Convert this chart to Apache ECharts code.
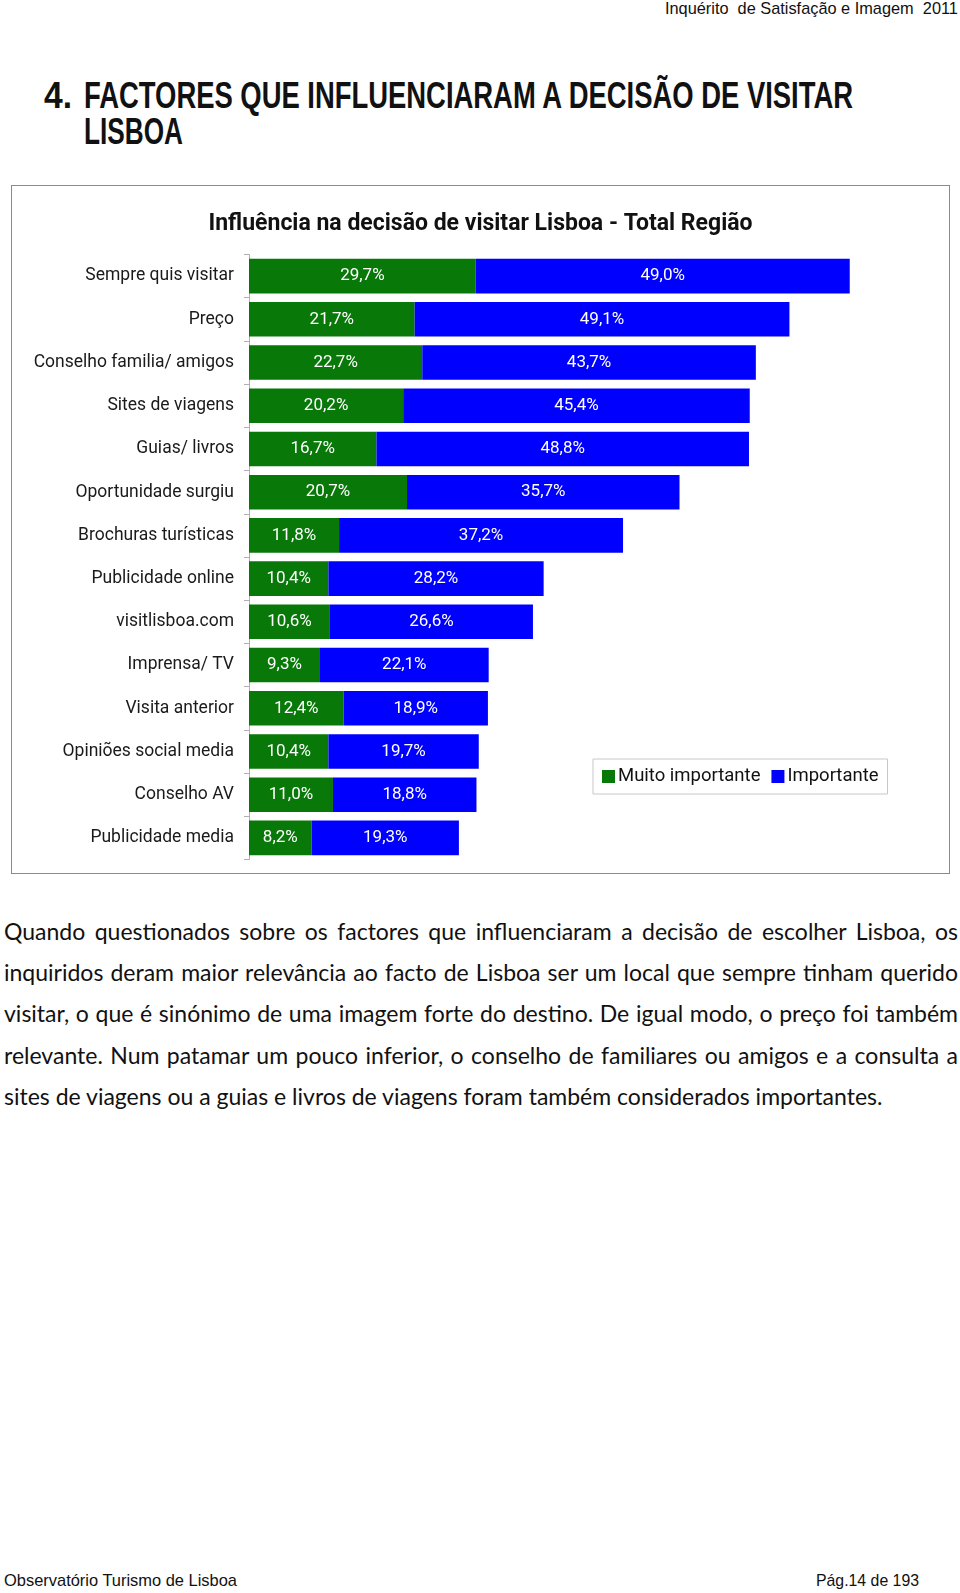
<!DOCTYPE html>
<html>
<head>
<meta charset="utf-8">
<script src="https://cdn.jsdelivr.net/npm/echarts@6/dist/echarts.min.js"></script>
<style>
  html, body { margin: 0; padding: 0; background: #fff; }
  body { width: 960px; height: 1593px; position: relative; overflow: hidden; color: #111; }
  .t { position: absolute; white-space: nowrap; display: inline-block; }
  .fit { transform-origin: left center; }
  .fitr { transform-origin: right center; }
  #box { position: absolute; left: 11px; top: 185px; width: 937px; height: 687px; border: 1px solid #8a8a8a; }
  #chart { position: absolute; left: 11px; top: 185px; width: 939px; height: 689px; }
  .para { position: absolute; left: 4px; width: 954px; font-family: Lato, sans-serif; font-size: 23px; line-height: 41px; height: 41px; white-space: nowrap; text-align: justify; text-align-last: justify; color: #111; }
  .para.last { text-align-last: left; }
</style>
</head>
<body>
<div class="t fitr" id="hdr" style="right:2px; top:-1px; font: 17px 'Liberation Sans', sans-serif; line-height:20px;">Inquérito&nbsp; de Satisfação e Imagem&nbsp; 2011</div>
<div class="t fit" id="num" style="left:44px; top:78px; font: bold 36px 'Liberation Sans', sans-serif; line-height:36px;">4.</div>
<div class="t fit" id="tit1" style="left:84px; top:78px; font: bold 36px 'Liberation Sans', sans-serif; line-height:36px;">FACTORES QUE INFLUENCIARAM A DECISÃO DE VISITAR</div>
<div class="t fit" id="tit2" style="left:84px; top:114px; font: bold 36px 'Liberation Sans', sans-serif; line-height:36px;">LISBOA</div>

<div id="box"></div>
<div id="chart"></div>

<div class="para" style="top:911px;"><span>Quando questionados sobre os factores que influenciaram a decisão de escolher Lisboa, os</span></div>
<div class="para" style="top:952px;"><span>inquiridos deram maior relevância ao facto de Lisboa ser um local que sempre tinham querido</span></div>
<div class="para" style="top:993px;"><span>visitar, o que é sinónimo de uma imagem forte do destino. De igual modo, o preço foi também</span></div>
<div class="para" style="top:1034.5px;"><span>relevante. Num patamar um pouco inferior, o conselho de familiares ou amigos e a consulta a</span></div>
<div class="para last" style="top:1075.5px;"><span>sites de viagens ou a guias e livros de viagens foram também considerados importantes.</span></div>

<div class="t fit" id="ft1" style="left:4px; top:1571px; font: 17px 'Liberation Sans', sans-serif; line-height:20px;">Observatório Turismo de Lisboa</div>
<div class="t fit" id="ft2" style="left:816px; top:1571px; font: 17px 'Liberation Sans', sans-serif; line-height:20px;">Pág.14 de 193</div>

<script>
// squeeze the page texts to the widths they have in the report
function fit(id, w) {
  const el = document.getElementById(id);
  const cur = el.getBoundingClientRect().width;
  el.style.transform = 'scaleX(' + (w / cur) + ')';
}
fit('hdr', 293);
fit('num', 28);
fit('tit1', 769);
fit('tit2', 99);
fit('ft1', 233);
fit('ft2', 103);

// lines that come out too long get tighter word spacing
document.querySelectorAll('.para').forEach(p => {
  const s = p.querySelector('span');
  const w = s.getBoundingClientRect().width;
  if (w > 952) {
    const gaps = s.textContent.split(' ').length - 1;
    p.style.wordSpacing = ((952 - w) / gaps) + 'px';
  }
});

const categorias = [
  'Sempre quis visitar', 'Preço', 'Conselho familia/ amigos', 'Sites de viagens',
  'Guias/ livros', 'Oportunidade surgiu', 'Brochuras turísticas', 'Publicidade online',
  'visitlisboa.com', 'Imprensa/ TV', 'Visita anterior', 'Opiniões social media',
  'Conselho AV', 'Publicidade media'
];
const muitoImportante = [29.7, 21.7, 22.7, 20.2, 16.7, 20.7, 11.8, 10.4, 10.6, 9.3, 12.4, 10.4, 11.0, 8.2];
const importante = [49.0, 49.1, 43.7, 45.4, 48.8, 35.7, 37.2, 28.2, 26.6, 22.1, 18.9, 19.7, 18.8, 19.3];

const fonte = 'Roboto';
const pct = p => p.value.toFixed(1).replace('.', ',') + '%';

const myChart = echarts.init(document.getElementById('chart'));
const option = {
  animation: false,
  textStyle: { fontFamily: fonte },
  title: {
    text: 'Influência na decisão de visitar Lisboa - Total Região',
    left: 'center',
    top: 23,
    textStyle: { fontFamily: fonte, fontSize: 23, fontWeight: 'bold', color: '#111' }
  },
  legend: {
    data: ['Muito importante', 'Importante'],
    left: 582,
    top: 574,
    orient: 'horizontal',
    icon: 'rect',
    itemWidth: 13,
    itemHeight: 13,
    itemGap: 11,
    padding: [8, 9, 8, 9],
    borderColor: '#c8c8c8',
    borderWidth: 1,
    textStyle: { fontFamily: fonte, fontSize: 18.5, color: '#111', padding: [0, 0, 0, -2] }
  },
  grid: { left: 238, right: 14, top: 69.5, bottom: 14.5, containLabel: false },
  xAxis: {
    type: 'value',
    min: 0,
    max: 90,
    show: false,
    splitLine: { show: false }
  },
  yAxis: {
    type: 'category',
    inverse: true,
    data: categorias,
    axisLine: { lineStyle: { color: '#b0b0b0' } },
    axisTick: { show: true, length: 5, lineStyle: { color: '#b0b0b0' } },
    axisLabel: { margin: 15, fontFamily: fonte, fontSize: 17.5, color: '#1a1a1a' }
  },
  series: [
    {
      name: 'Muito importante',
      type: 'bar',
      stack: 'total',
      barCategoryGap: '20%',
      data: muitoImportante,
      itemStyle: { color: '#087808' },
      label: { show: true, position: 'inside', formatter: pct, color: '#fff', fontFamily: fonte, fontSize: 17 }
    },
    {
      name: 'Importante',
      type: 'bar',
      stack: 'total',
      barCategoryGap: '20%',
      data: importante,
      itemStyle: { color: '#0000ff' },
      label: { show: true, position: 'inside', formatter: pct, color: '#fff', fontFamily: fonte, fontSize: 17 }
    }
  ]
};
myChart.setOption(option);
</script>
</body>
</html>
